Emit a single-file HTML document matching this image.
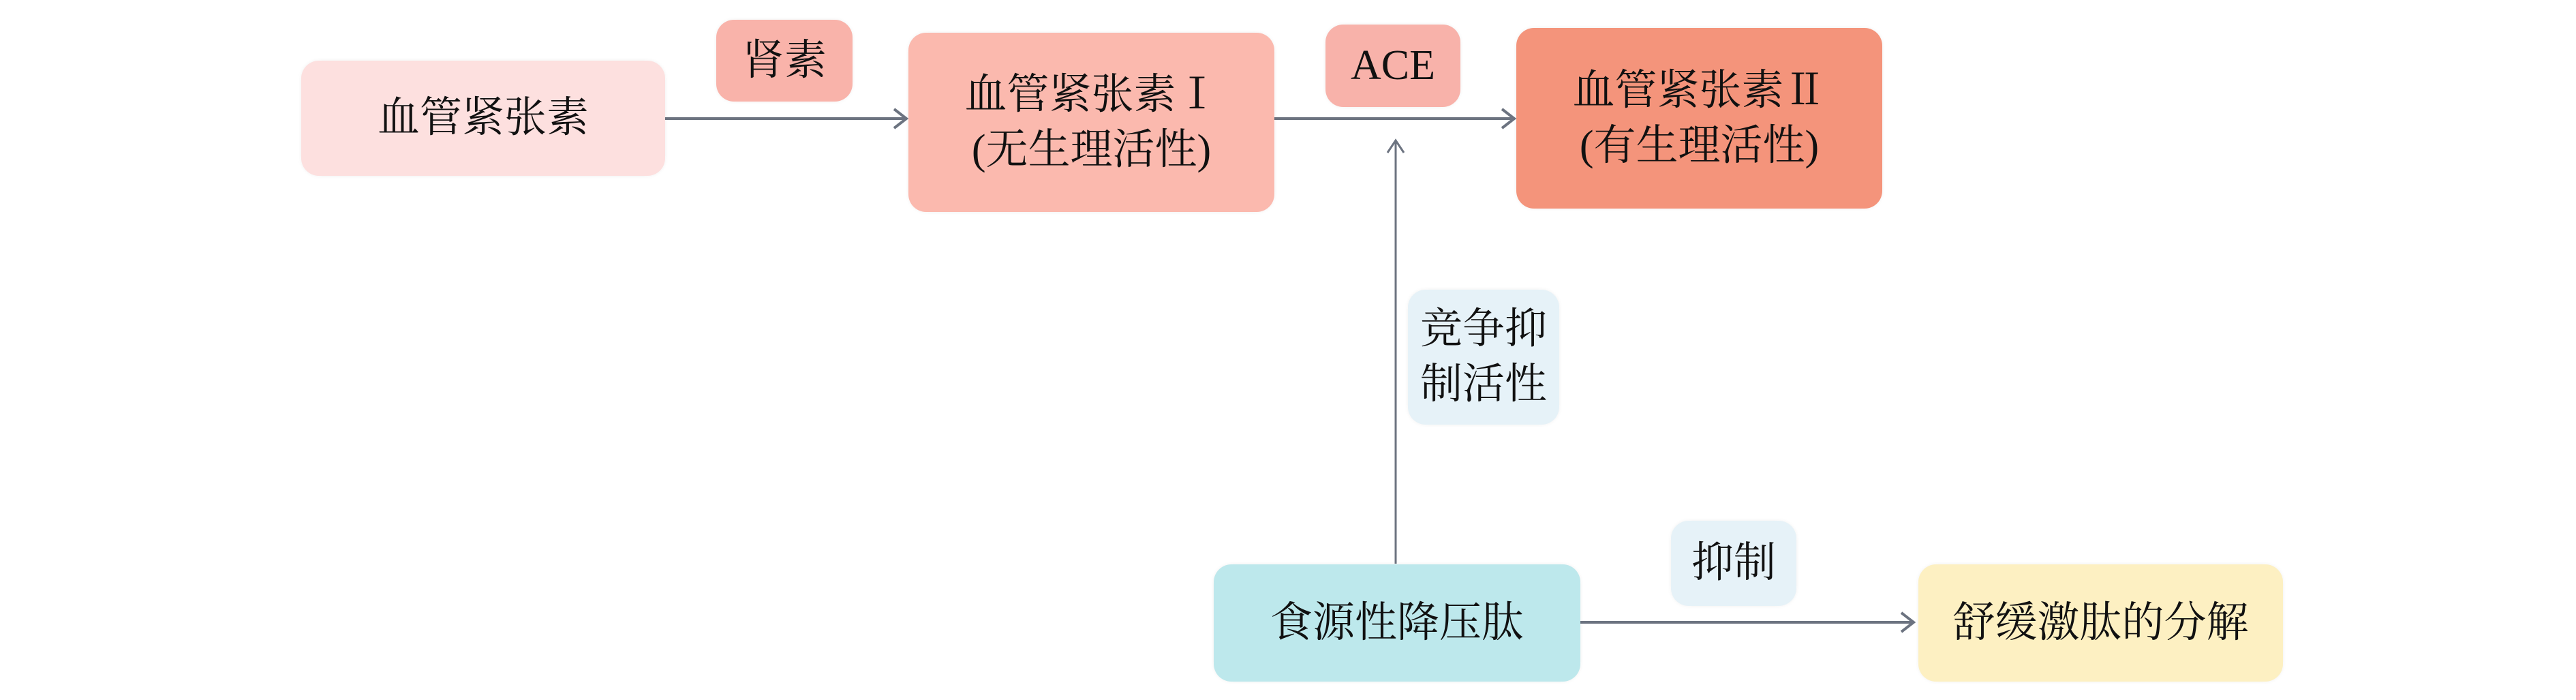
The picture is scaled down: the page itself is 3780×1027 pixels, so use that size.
<!DOCTYPE html>
<html><head><meta charset="utf-8"><style>
body{margin:0;width:3780px;height:1027px;background:#fff;position:relative;overflow:hidden;font-family:"Liberation Serif","Noto Serif CJK SC",serif;}
.b{position:absolute;display:flex;align-items:center;justify-content:center;text-align:center;border-radius:26px;color:#111;font-size:62px;line-height:1.3;box-shadow:0 0 6px rgba(0,0,0,0.06);}
svg{position:absolute;left:0;top:0}
</style></head><body>
<svg width="3780" height="1027">
<g stroke="#6c7380" stroke-width="4" fill="none">
<line x1="976" y1="174" x2="1328" y2="174"/><polyline points="1312,160 1330,174 1312,188"/>
<line x1="1870" y1="174" x2="2220" y2="174"/><polyline points="2204,160 2222,174 2204,188"/>
<line x1="2048" y1="827" x2="2048" y2="208" stroke-width="3"/><polyline points="2036,224 2048,206 2060,224" stroke-width="3"/>
<line x1="2318" y1="913" x2="2806" y2="913"/><polyline points="2790,899 2808,913 2790,927"/>
</g></svg>
<div class="b" style="left:442px;top:89px;width:534px;height:169px;background:#fde0df">血管紧张素</div>
<div class="b" style="left:1051px;top:29px;width:200px;height:120px;background:#f9b3aa">肾素</div>
<div class="b" style="left:1333px;top:48px;width:537px;height:263px;background:#fbb9ae">血管紧张素Ⅰ<br>(无生理活性)</div>
<div class="b" style="left:1945px;top:36px;width:198px;height:121px;background:#f8b2aa">ACE</div>
<div class="b" style="left:2225px;top:41px;width:537px;height:265px;background:#f4947b">血管紧张素Ⅱ<br>(有生理活性)</div>
<div class="b" style="left:2066px;top:425px;width:222px;height:198px;background:#e6f2f8">竞争抑<br>制活性</div>
<div class="b" style="left:1781px;top:828px;width:538px;height:172px;background:#bde8ec">食源性降压肽</div>
<div class="b" style="left:2452px;top:764px;width:184px;height:125px;background:#e6f2f8">抑制</div>
<div class="b" style="left:2815px;top:828px;width:535px;height:172px;background:#fdf0c2">舒缓激肽的分解</div>
</body></html>
